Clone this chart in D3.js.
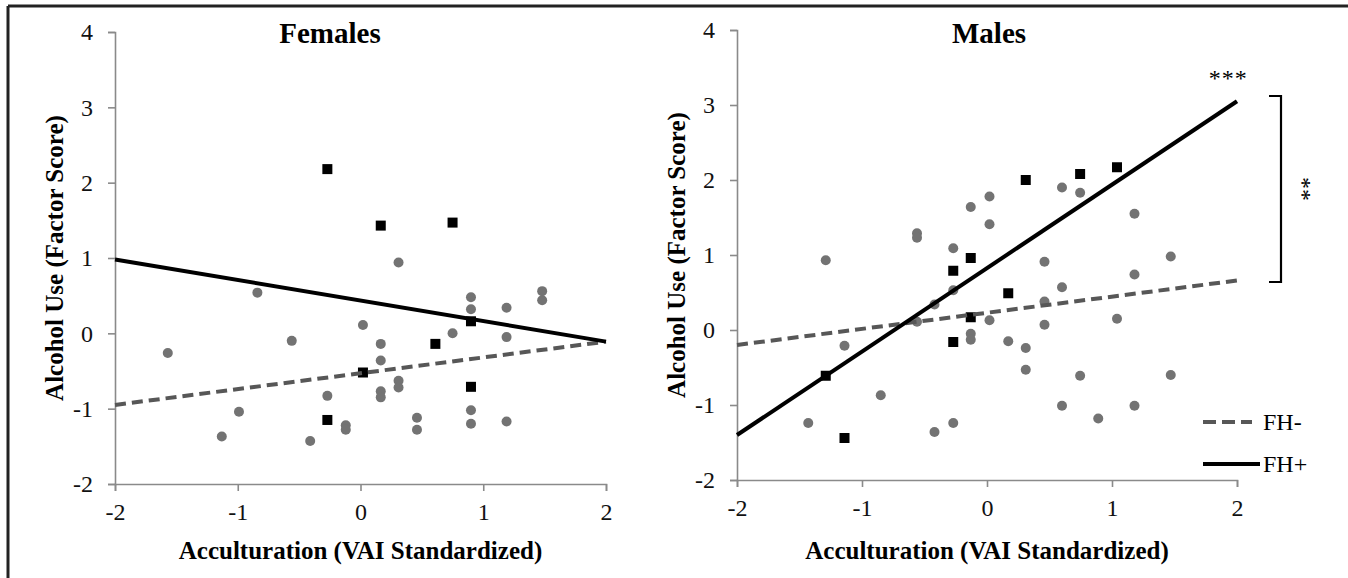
<!DOCTYPE html>
<html>
<head>
<meta charset="utf-8">
<script src="https://cdn.jsdelivr.net/npm/d3@7"></script>
<style>
body { margin: 0; background: #fff; }
</style>
</head>
<body>
<svg id="chart"></svg>
<script>
// data
var xTicks = [-2, -1, 0, 1, 2];
var yTicks = [-2, -1, 0, 1, 2, 3, 4];

var femalesFHneg = [[-1.57,-0.26],[-0.84,0.54],[-0.56,-0.10],[-1.13,-1.37],[-0.99,-1.04],[-0.41,-1.43],
  [-0.27,-0.83],[-0.12,-1.22],[-0.12,-1.28],[0.02,0.11],[0.165,-0.14],[0.165,-0.36],[0.165,-0.77],
  [0.165,-0.85],[0.31,0.94],[0.31,-0.63],[0.31,-0.72],[0.46,-1.12],[0.46,-1.28],[0.75,0.0],
  [0.90,0.48],[0.90,0.32],[0.90,-1.02],[0.90,-1.20],[1.19,0.34],[1.19,-0.05],[1.19,-1.17],
  [1.48,0.56],[1.48,0.44]];
var femalesFHpos = [[-0.27,2.18],[0.165,1.43],[0.75,1.47],[0.90,0.16],[0.61,-0.14],[0.02,-0.52],
  [0.90,-0.71],[-0.27,-1.15]];
var femalesFitNeg = [[-2,-0.95],[2,-0.11]];
var femalesFitPos = [[-2,0.98],[2,-0.11]];

var malesFHneg = [[-1.29,0.93],[-1.14,-0.21],[-1.43,-1.24],[-0.85,-0.87],[-0.42,-1.36],[-0.56,1.29],
  [-0.56,1.23],[-0.56,0.11],[-0.42,0.34],[-0.27,1.09],[-0.27,0.53],[-0.27,-1.24],[-0.13,1.64],
  [-0.13,-0.05],[-0.13,-0.13],[0.02,1.78],[0.02,1.41],[0.02,0.13],[0.17,-0.15],[0.31,-0.24],
  [0.31,-0.53],[0.46,0.91],[0.46,0.38],[0.46,0.07],[0.60,1.90],[0.60,0.57],[0.60,-1.01],
  [0.745,1.83],[0.745,-0.61],[0.89,-1.18],[1.04,0.15],[1.18,1.55],[1.18,0.74],[1.18,-1.01],
  [1.47,0.98],[1.47,-0.60]];
var malesFHpos = [[0.31,2.0],[0.745,2.08],[1.04,2.17],[-0.13,0.96],[-0.27,0.79],[0.17,0.49],
  [-0.13,0.17],[-0.27,-0.16],[-1.29,-0.61],[-1.14,-1.44]];
var malesFitNeg = [[-2,-0.20],[2,0.66]];
var malesFitPos = [[-2,-1.40],[2,3.05]];

var xLabel = "Acculturation (VAI Standardized)";
var yLabel = "Alcohol Use (Factor Score)";

var serif = "'Liberation Serif', Tinos, 'Times New Roman', Times, 'DejaVu Serif', 'Noto Serif', serif";
var width = 1348, height = 578;

var svg = d3.select("#chart")
  .attr("width", width)
  .attr("height", height)
  .attr("font-family", serif);

// frame (top and left only, as in the scan)
svg.append("line").attr("x1", 8).attr("x2", width).attr("y1", 6).attr("y2", 6)
  .attr("stroke", "#222").attr("stroke-width", 3);
svg.append("line").attr("x1", 8).attr("x2", 8).attr("y1", 6).attr("y2", height)
  .attr("stroke", "#222").attr("stroke-width", 3);

var panels = [
  {title: "Females", x0: 115, x1: 606, yTop: 32, yBot: 484,
   neg: femalesFHneg, pos: femalesFHpos, fitNeg: femalesFitNeg, fitPos: femalesFitPos},
  {title: "Males", x0: 737, x1: 1237, yTop: 30, yBot: 480,
   neg: malesFHneg, pos: malesFHpos, fitNeg: malesFitNeg, fitPos: malesFitPos}
];

var line = d3.line();

panels.forEach(function(p, idx) {
  var x = d3.scaleLinear().domain([-2, 2]).range([p.x0, p.x1]);
  var y = d3.scaleLinear().domain([-2, 4]).range([p.yBot, p.yTop]);
  p.x = x; p.y = y;
  var g = svg.append("g");

  var xAxis = g.append("g")
    .attr("transform", "translate(0," + p.yBot + ")")
    .call(d3.axisBottom(x).tickValues(xTicks).tickSize(7).tickPadding(12).tickFormat(d3.format("d")));
  var yAxis = g.append("g")
    .attr("transform", "translate(" + p.x0 + ",0)")
    .call(d3.axisLeft(y).tickValues(yTicks).tickSize(7).tickPadding(15).tickFormat(d3.format("d")));

  [xAxis, yAxis].forEach(function(a) {
    a.attr("font-family", serif).attr("font-size", 24);
    a.select(".domain").attr("stroke", "#8a8a8a").attr("stroke-width", 1.6);
    a.selectAll(".tick line").attr("stroke", "#8a8a8a").attr("stroke-width", 1.6);
    a.selectAll(".tick text").attr("fill", "#111");
  });
  // hyphen-minus like the original
  xAxis.selectAll(".tick text").text(function(d) { return String(d); });
  yAxis.selectAll(".tick text").text(function(d) { return String(d); });

  g.selectAll("circle.neg")
    .data(p.neg)
    .enter().append("circle")
    .attr("class", "neg")
    .attr("cx", function(d) { return x(d[0]); })
    .attr("cy", function(d) { return y(d[1]); })
    .attr("r", 5)
    .attr("fill", "#737373");

  var sq = 10;
  g.selectAll("rect.pos")
    .data(p.pos)
    .enter().append("rect")
    .attr("class", "pos")
    .attr("x", function(d) { return x(d[0]) - sq / 2; })
    .attr("y", function(d) { return y(d[1]) - sq / 2; })
    .attr("width", sq)
    .attr("height", sq)
    .attr("fill", "#000");

  g.append("path")
    .attr("d", line(p.fitNeg.map(function(d) { return [x(d[0]), y(d[1])]; })))
    .attr("stroke", "#575757")
    .attr("stroke-width", 4)
    .attr("stroke-dasharray", "11,6")
    .attr("fill", "none");

  g.append("path")
    .attr("d", line(p.fitPos.map(function(d) { return [x(d[0]), y(d[1])]; })))
    .attr("stroke", "#000")
    .attr("stroke-width", 4)
    .attr("fill", "none");

  var cx = (p.x0 + p.x1) / 2;
  g.append("text")
    .attr("x", idx === 0 ? 330 : 989)
    .attr("y", 43)
    .attr("text-anchor", "middle")
    .attr("font-size", 29)
    .attr("font-weight", "bold")
    .text(p.title);

  g.append("text")
    .attr("x", cx)
    .attr("y", 559)
    .attr("text-anchor", "middle")
    .attr("font-size", 25)
    .attr("font-weight", "bold")
    .text(xLabel);

  g.append("text")
    .attr("transform", "translate(" + (p.x0 - 52) + "," + ((p.yTop + p.yBot) / 2) + ") rotate(-90)")
    .attr("text-anchor", "middle")
    .attr("font-size", 25)
    .attr("font-weight", "bold")
    .text(yLabel);
});

// significance marks on the Males panel
var m = panels[1];
svg.append("text")
  .attr("x", m.x(1.93))
  .attr("y", 86)
  .attr("text-anchor", "middle")
  .attr("font-size", 24)
  .attr("letter-spacing", 1)
  .text("***");

var bx = 1281, bTop = m.y(3.12), bBot = m.y(0.64);
svg.append("path")
  .attr("d", "M" + (bx - 12) + "," + bTop + "H" + bx + "V" + bBot + "H" + (bx - 12))
  .attr("stroke", "#000")
  .attr("stroke-width", 2.2)
  .attr("fill", "none");

svg.append("text")
  .attr("transform", "translate(" + 1295 + "," + ((bTop + bBot) / 2) + ") rotate(90)")
  .attr("text-anchor", "middle")
  .attr("font-size", 24)
  .text("**");

// legend
var legend = [
  {label: "FH-", dash: "13,6", color: "#575757", x2: 1252, y: 422},
  {label: "FH+", dash: null, color: "#000", x2: 1260, y: 464}
];
var lg = svg.selectAll(".legend")
  .data(legend)
  .enter().append("g")
  .attr("class", "legend");
lg.append("line")
  .attr("x1", 1203)
  .attr("x2", function(d) { return d.x2; })
  .attr("y1", function(d) { return d.y; })
  .attr("y2", function(d) { return d.y; })
  .attr("stroke", function(d) { return d.color; })
  .attr("stroke-width", 4)
  .attr("stroke-dasharray", function(d) { return d.dash; });
lg.append("text")
  .attr("x", 1263)
  .attr("y", function(d) { return d.y + 8; })
  .attr("font-size", 24)
  .text(function(d) { return d.label; });
</script>
</body>
</html>
